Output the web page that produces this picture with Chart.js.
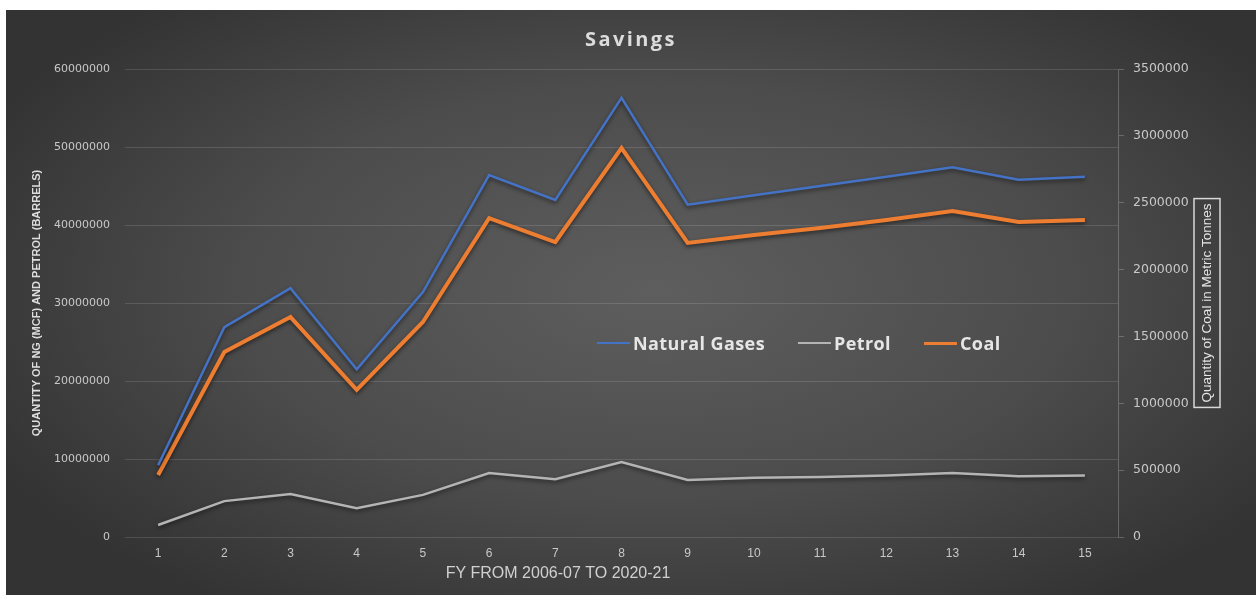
<!DOCTYPE html>
<html>
<head>
<meta charset="utf-8">
<script src="https://cdn.jsdelivr.net/npm/chart.js@4"></script>
<style>
  html, body { margin: 0; padding: 0; background: #fff; }
  #wrap {
    position: absolute; left: 6px; top: 10px; width: 1250px; height: 585px;
    background: radial-gradient(ellipse 60% 65% at 52% 48%, #5e5e5e 0%, #4c4c4c 55%, #333 100%);
  }
  #title {
    position: absolute; left: 0; top: 15px; width: 1250px; text-align: center;
    font: bold 20px "Open Sans", sans-serif; letter-spacing: 2.4px; color: #dcdcdc;
  }
  #legend {
    position: absolute; left: 591px; top: 321px; height: 24px;
    display: flex; align-items: center;
    font: bold 18px "Open Sans", sans-serif; letter-spacing: 0.4px; color: #e6e6e6;
  }
  #legend span { display: flex; align-items: center; margin-right: 33px; }
  #legend i { display: inline-block; width: 33px; margin-right: 3px; }
</style>
</head>
<body>
<div id="wrap">
  <canvas id="c" width="1250" height="585"></canvas>
  <div id="title">Savings</div>
  <div id="legend"></div>
</div>
<script>
const fy = ['1', '2', '3', '4', '5', '6', '7', '8', '9', '10', '11', '12', '13', '14', '15'];
const naturalGases = [9200000, 26900000, 31900000, 21500000, 31400000, 46400000, 43200000, 56300000,
  42600000, 43800000, 45000000, 46200000, 47400000, 45800000, 46200000];
const petrol = [1540000, 4600000, 5500000, 3700000, 5400000, 8200000, 7400000, 9600000,
  7300000, 7600000, 7700000, 7900000, 8200000, 7800000, 7900000];
const coal = [464000, 1383000, 1645000, 1100000, 1608000, 2385000, 2206000, 2909000,
  2199000, 2258000, 2311000, 2371000, 2438000, 2356000, 2371000];

const colors = { ng: '#4472c4', petrol: '#b4b4b4', coal: '#ed7d31' };

document.getElementById('legend').innerHTML = [
  ['Natural Gases', colors.ng, 2],
  ['Petrol', colors.petrol, 2],
  ['Coal', colors.coal, 3]
].map(([t, c, w]) => `<span><i style="border-top:${w}px solid ${c}"></i>${t}</span>`).join('');

const extras = {
  id: 'extras',
  beforeDatasetDraw(chart) {
    const ctx = chart.ctx;
    ctx.save();
    ctx.shadowColor = 'rgba(0,0,0,0.55)';
    ctx.shadowBlur = 4;
    ctx.shadowOffsetY = 2;
  },
  afterDatasetDraw(chart) {
    chart.ctx.restore();
  },
  afterDraw(chart) {
    const ctx = chart.ctx;
    ctx.save();
    // x axis title
    ctx.fillStyle = '#d0d0d0';
    ctx.font = '16px "Liberation Sans Narrow", "Liberation Sans", sans-serif';
    ctx.textAlign = 'center';
    ctx.textBaseline = 'middle';
    ctx.fillText('FY FROM 2006-07 TO 2020-21', 552, 564);
    // right axis title with box
    const txt = 'Quantity of Coal in Metric Tonnes';
    ctx.font = '13.5px "Liberation Sans", sans-serif';
    const w = ctx.measureText(txt).width;
    ctx.translate(1201, 293);
    ctx.rotate(-Math.PI / 2);
    ctx.fillStyle = '#e6e6e6';
    ctx.fillText(txt, 0, 0);
    ctx.strokeStyle = '#d8d8d8';
    ctx.lineWidth = 1.5;
    ctx.strokeRect(-w / 2 - 5, -13, w + 10, 26);
    ctx.restore();
  }
};

new Chart(document.getElementById('c'), {
  type: 'line',
  data: {
    labels: fy,
    datasets: [
      { label: 'Natural Gases', data: naturalGases, borderColor: colors.ng, borderWidth: 2.5, yAxisID: 'y' },
      { label: 'Petrol', data: petrol, borderColor: colors.petrol, borderWidth: 2.5, yAxisID: 'y' },
      { label: 'Coal', data: coal, borderColor: colors.coal, borderWidth: 4, yAxisID: 'y2' }
    ]
  },
  options: {
    responsive: false,
    animation: false,
    layout: { padding: { top: 59 } },
    elements: { point: { radius: 0 }, line: { tension: 0 } },
    plugins: {
      legend: { display: false },
      tooltip: { enabled: false },
      title: { display: false }
    },
    scales: {
      x: {
        offset: true,
        grid: { display: false, drawTicks: false },
        border: { display: false },
        ticks: { color: '#c8c8c8', padding: 9, font: { family: '"Liberation Sans Narrow", sans-serif', size: 12 } },
        afterFit: (s) => { s.height = 58; }
      },
      y: {
        position: 'left',
        min: 0,
        max: 60000000,
        ticks: {
          stepSize: 10000000, padding: 15, color: '#c8c8c8',
          font: { family: '"DejaVu Sans", sans-serif', size: 11 },
          callback: (v) => String(v)
        },
        grid: { color: 'rgba(255,255,255,0.13)', drawTicks: false },
        border: { display: false },
        title: {
          display: true,
          text: 'QUANTITY OF NG (MCF) AND PETROL (BARRELS)',
          color: '#dedede',
          font: { family: '"Liberation Sans Narrow", sans-serif', size: 11, weight: 'bold', lineHeight: 1.2 },
          padding: { top: 24.4, bottom: 0 }
        },
        afterFit: (s) => { s.width = 119; }
      },
      y2: {
        position: 'right',
        min: 0,
        max: 3500000,
        ticks: {
          stepSize: 500000, padding: 9, color: '#c8c8c8',
          font: { family: '"DejaVu Sans", sans-serif', size: 12.5 },
          callback: (v) => String(v)
        },
        grid: { drawOnChartArea: false, drawTicks: true, tickLength: 6, color: 'rgba(255,255,255,0.22)' },
        border: { display: true, color: 'rgba(255,255,255,0.22)' },
        afterFit: (s) => { s.width = 138; }
      }
    }
  },
  plugins: [extras]
});
</script>
</body>
</html>
